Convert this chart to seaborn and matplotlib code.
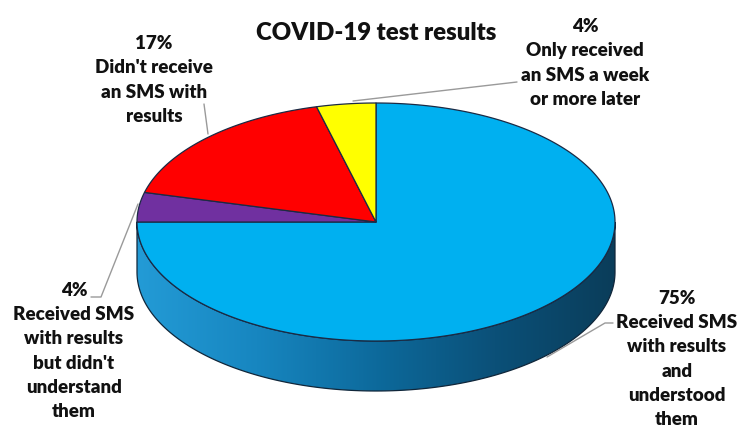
import numpy as np
import matplotlib
matplotlib.use("Agg")
import matplotlib.pyplot as plt
from matplotlib.patches import Polygon
from matplotlib.colors import LinearSegmentedColormap
import seaborn as sns

# Survey answers, in drawing order (clockwise from 12 o'clock)
categories = [
    "Received SMS with results and understood them",
    "Received SMS with results but didn't understand them",
    "Didn't receive an SMS with results",
    "Only received an SMS a week or more later",
]
values = [75, 4, 17, 4]
label_texts = [
    "75%\nReceived SMS\nwith results\nand\nunderstood\nthem",
    "4%\nReceived SMS\nwith results\nbut didn't\nunderstand\nthem",
    "17%\nDidn't receive\nan SMS with\nresults",
    "4%\nOnly received\nan SMS a week\nor more later",
]
title = "COVID-19 test results"

sns.set_theme(style="white")
plt.rcParams["font.family"] = ["Lato", "DejaVu Sans"]

colors = sns.color_palette(["#00B0F0", "#7030A0", "#FF0000", "#FFFF00"])

W, H = 744, 434
fig = plt.figure(figsize=(W / 100, H / 100), dpi=100)
ax = fig.add_axes([0, 0, 1, 1])
ax.set_xlim(0, W)
ax.set_ylim(H, 0)
ax.axis("off")

# pie geometry (pixel space, y pointing down)
cx, cy = 376, 222
a, b = 239, 119
depth = 50


def pt(t_deg, dy=0.0):
    t = np.radians(t_deg)
    return cx + a * np.cos(t), cy - b * np.sin(t) + dy


# wedge angles: start at 90 deg, go clockwise
fracs = np.array(values, dtype=float) / np.sum(values)
starts = 90 - 360 * np.concatenate([[0], np.cumsum(fracs)[:-1]])
ends = starts - 360 * fracs

# side wall of the front half (only the big slice is visible there)
ts = np.linspace(180, 360, 200)
top_arc = np.array([pt(t) for t in ts])
bot_arc = np.array([pt(t, depth) for t in ts[::-1]])
side_poly = Polygon(np.vstack([top_arc, bot_arc]), closed=True,
                    facecolor="none", edgecolor="#10263a", lw=0.9, zorder=2)
ax.add_patch(side_poly)
side_cmap = LinearSegmentedColormap.from_list(
    "side", ["#239bd6", "#1786c0", "#0d6a9c", "#0b5078", "#0a3d5a"])
grad = np.linspace(0, 1, 256)[None, :]
img = ax.imshow(grad, cmap=side_cmap, extent=[cx - a, cx + a, cy + b + depth + 2, cy - 2],
                aspect="auto", zorder=1, interpolation="bilinear")
img.set_clip_path(side_poly)
ax.set_xlim(0, W)
ax.set_ylim(H, 0)

# top face wedges
for s, e, c in zip(starts, ends, colors):
    tt = np.linspace(s, e, max(int(abs(s - e)) * 2, 4))
    verts = [(cx, cy)] + [pt(t) for t in tt]
    ax.add_patch(Polygon(verts, closed=True, facecolor=c, edgecolor="#1b2a44",
                         lw=0.9, joinstyle="round", zorder=3))

# leader lines
lc = "#9a9a9a"
ax.plot([613, 605, 547], [323, 323, 357], color=lc, lw=1.0, zorder=4)
ax.plot([91, 101, 138], [297, 297, 204], color=lc, lw=1.0, zorder=4)
ax.plot([204, 208], [104, 134], color=lc, lw=1.0, zorder=4)
ax.plot([353, 517], [101, 82], color=lc, lw=1.0, zorder=4)

# labels
label_pos = [(677, 359), (74, 351), (154, 80), (585, 63)]
for txt, (x, y) in zip(label_texts, label_pos):
    ax.text(x, y, txt, ha="center", va="center", fontsize=13.5,
            fontweight="heavy", linespacing=1.52, color="#111111", zorder=5)

ax.text(376, 33, title, ha="center", va="center", fontsize=17.3,
        fontweight="heavy", color="#111111")

fig.savefig("out.png", dpi=100)
